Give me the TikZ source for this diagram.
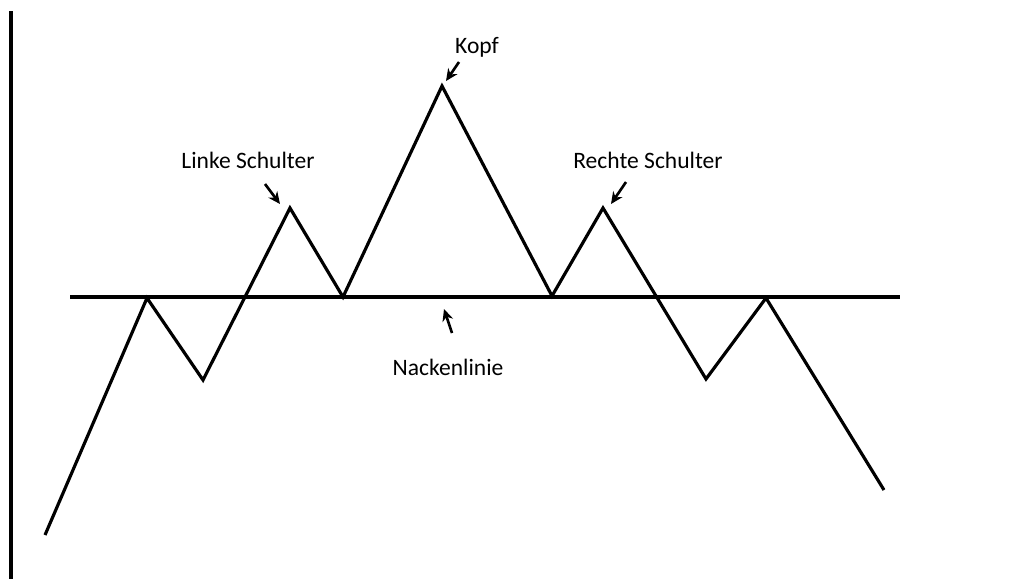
\documentclass[tikz,border=0pt]{standalone}
\usepackage{fontspec}
\setmainfont{Carlito}
\usetikzlibrary{arrows.meta}

\begin{document}
\begin{tikzpicture}[
    x=0.02cm, y=-0.02cm,
    kurve/.style={line width=1.8pt, line join=miter},
    pfeil/.style={-{Stealth[length=2.4mm, width=2.2mm]}, line width=1.5pt},
    beschriftung/.style={font=\fontsize{13.4}{16}\selectfont, inner sep=1pt}
  ]
    \useasboundingbox (0,0) rectangle (1011,579);

    % Kurspunkte
    \coordinate (p0) at (45,535);
    \coordinate (p1) at (147,298);
    \coordinate (p2) at (203,380);
    \coordinate (ls) at (290,208);
    \coordinate (p4) at (343,297);
    \coordinate (kopf) at (442,86);
    \coordinate (p6) at (552,296);
    \coordinate (rs) at (603,208);
    \coordinate (p8) at (706,379);
    \coordinate (p9) at (766,298);
    \coordinate (p10) at (884,490);

    % Achse links
    \draw[line width=1.8pt] (11,11) -- (11,579);

    % Nackenlinie
    \coordinate (nl) at (70,297);
    \coordinate (nr) at (900,297);
    \draw[kurve] (nl) -- (nr);

    % Kursverlauf
    \draw[kurve] (p0) -- (p1) -- (p2) -- (ls) -- (p4) -- (kopf) -- (p6) -- (rs) -- (p8) -- (p9) -- (p10);

    % Beschriftungen
    \node[beschriftung] (tkopf) at (477,47) {Kopf};
    \node[beschriftung] (tls) at (248,160) {Linke Schulter};
    \node[beschriftung] (trs) at (648,160) {Rechte Schulter};
    \node[beschriftung] (tnl) at (448,367) {Nackenlinie};

    \coordinate (akopf) at (459,62);
    \coordinate (zkopf) at (446,81);
    \coordinate (als) at (265,184);
    \coordinate (zls) at (280,204);
    \coordinate (ars) at (626,182);
    \coordinate (zrs) at (611,204);
    \coordinate (anl) at (452,333);
    \coordinate (znl) at (444,309);

    \draw[pfeil] (akopf) -- (zkopf);
    \draw[pfeil] (als) -- (zls);
    \draw[pfeil] (ars) -- (zrs);
    \draw[pfeil] (anl) -- (znl);
\end{tikzpicture}
\end{document}
